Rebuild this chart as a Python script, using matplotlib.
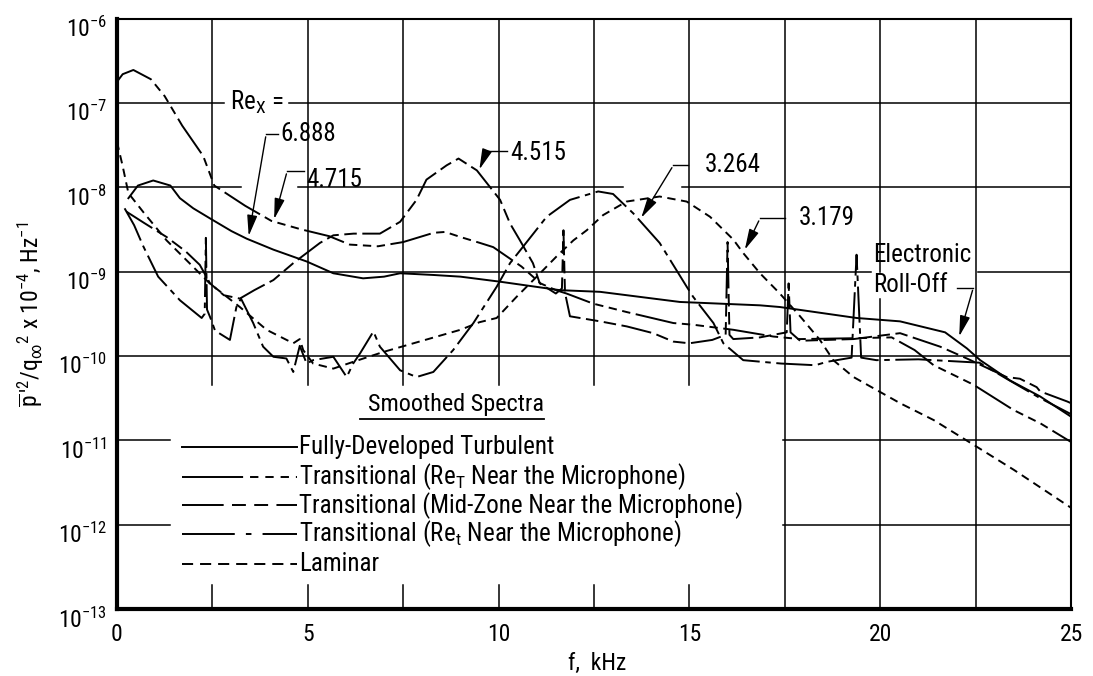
import numpy as np
import matplotlib
matplotlib.use('Agg')
import matplotlib.pyplot as plt
from matplotlib import font_manager
import matplotlib.transforms as mtransforms


def pick_font():
    # narrow sans to stand in for the condensed lettering of the original
    for name in ['Liberation Sans Narrow', 'Roboto Condensed', 'Roboto', 'DejaVu Sans']:
        try:
            font_manager.findfont(font_manager.FontProperties(family=name),
                                  fallback_to_default=False)
            return name
        except Exception:
            pass
    return 'DejaVu Sans'


FONT = pick_font()
plt.rcParams['font.family'] = [FONT, 'DejaVu Sans']
plt.rcParams['mathtext.fontset'] = 'custom'
plt.rcParams['mathtext.rm'] = FONT
plt.rcParams['mathtext.it'] = FONT + ':italic'
plt.rcParams['mathtext.bf'] = FONT + ':bold'
plt.rcParams['lines.scale_dashes'] = False

# ---- data: f in kHz, spectrum as log10 value ----
turb_f = [0.30, 0.55, 0.95, 1.40, 1.65, 2.00, 2.44, 3.00, 3.40, 4.10, 4.97, 5.67,
          6.45, 7.00, 7.42, 8.29, 9.00, 10.04, 11.60, 12.66, 14.75, 16.85, 17.37,
          19.38, 20.52, 21.70, 22.27, 22.62, 23.40, 24.19, 25.00]
turb_lg = [-8.13, -7.98, -7.92, -7.98, -8.13, -8.25, -8.37, -8.52, -8.61, -8.74, -8.88, -9.02,
           -9.08, -9.06, -9.02, -9.04, -9.06, -9.12, -9.22, -9.24, -9.36, -9.40, -9.42,
           -9.55, -9.59, -9.72, -9.91, -10.05, -10.29, -10.48, -10.72]

reT_f = [0.00, 0.15, 0.43, 0.89, 1.25, 1.71, 2.26, 2.55, 3.36, 4.05, 4.83, 5.56, 6.10,
         6.84, 7.50, 8.30, 8.60, 9.00, 9.51, 9.86, 10.60, 11.10, 11.50, 11.78, 12.48,
         13.36, 14.58, 15.10, 16.15, 17.20, 17.90, 19.30, 20.30, 20.90, 21.40, 22.44,
         23.49, 24.20, 25.00]
reT_lg = [-6.75, -6.66, -6.61, -6.72, -6.92, -7.27, -7.63, -7.98, -8.22, -8.40, -8.50, -8.58, -8.68,
          -8.70, -8.65, -8.54, -8.53, -8.59, -8.66, -8.71, -8.94, -9.14, -9.22, -9.26, -9.38,
          -9.48, -9.61, -9.63, -9.69, -9.77, -9.80, -9.79, -9.78, -9.93, -10.11, -10.34,
          -10.64, -10.80, -11.02]

mid_f = [0.25, 0.70, 1.30, 1.80, 2.17, 2.44, 2.80, 3.22, 3.60, 4.10, 4.62, 5.32, 5.67,
         6.20, 6.89, 7.42, 7.85, 8.11, 8.64, 8.95, 9.43, 10.04, 10.30, 10.56, 10.90,
         11.08, 11.50, 11.66, 11.70, 11.74, 11.87, 12.66, 13.36, 14.05, 14.58, 15.00,
         15.60, 15.95, 16.00, 16.05, 16.15, 16.85, 17.55, 17.60, 17.65, 17.90, 19.30,
         20.52, 21.57, 22.27, 23.31, 23.66, 24.10, 24.19, 24.90, 25.00]
mid_lg = [-8.29, -8.42, -8.59, -8.76, -8.92, -9.14, -9.28, -9.32, -9.22, -9.10, -8.90, -8.66, -8.57,
          -8.55, -8.55, -8.41, -8.15, -7.91, -7.74, -7.66, -7.80, -8.15, -8.43, -8.63, -8.90,
          -9.14, -9.26, -9.20, -8.51, -9.25, -9.53, -9.59, -9.65, -9.73, -9.83, -9.85,
          -9.81, -9.75, -8.65, -9.75, -9.80, -9.78, -9.72, -9.14, -9.72, -9.82, -9.80,
          -9.73, -9.89, -10.03, -10.25, -10.27, -10.37, -10.42, -10.54, -10.56]

ret_f = [0.20, 0.45, 0.69, 1.08, 1.65, 2.22, 2.30, 2.33, 2.36, 2.45, 2.57, 2.96, 3.13,
         3.25, 3.57, 3.83, 4.10, 4.44, 4.62, 4.79, 4.97, 5.14, 5.67, 6.02, 6.19, 6.37,
         6.72, 6.89, 7.42, 7.85, 8.29, 8.81, 9.34, 9.95, 10.30, 10.65, 11.26, 11.87,
         12.61, 13.00, 13.53, 14.22, 14.93, 15.10, 15.63, 15.89, 16.41, 17.40, 18.30,
         18.60, 19.25, 19.38, 19.50, 19.90, 21.00, 22.60, 23.31, 24.19, 25.00]
ret_lg = [-8.25, -8.45, -8.70, -9.06, -9.34, -9.55, -9.50, -8.60, -9.45, -9.55, -9.70, -9.81, -9.42,
          -9.32, -9.61, -9.89, -10.01, -10.03, -10.19, -9.88, -10.09, -10.05, -10.01, -10.25, -10.09, -9.97,
          -9.71, -9.89, -10.17, -10.25, -10.19, -9.93, -9.61, -9.18, -8.90, -8.70, -8.35, -8.15,
          -8.05, -8.08, -8.31, -8.66, -9.18, -9.30, -9.61, -9.85, -10.05, -10.09, -10.11,
          -10.07, -10.02, -8.80, -10.02, -10.05, -10.04, -10.08, -10.27, -10.50, -10.69]

lam_f = [0.00, 0.15, 0.30, 0.70, 1.30, 1.90, 2.43, 3.22, 3.92, 4.62, 4.79, 4.88, 5.14,
         5.67, 6.19, 7.00, 8.00, 9.00, 9.50, 9.95, 10.47, 11.00, 11.52, 11.96, 12.31,
         12.74, 13.35, 14.22, 14.93, 15.54, 16.15, 16.41, 16.85, 17.37, 17.90, 18.42,
         18.77, 19.30, 20.52, 21.40, 22.40, 23.50, 25.00]
lam_lg = [-7.46, -7.75, -8.07, -8.30, -8.63, -8.90, -9.14, -9.42, -9.69, -9.85, -9.80, -9.93, -10.09,
          -10.15, -10.07, -9.95, -9.82, -9.69, -9.60, -9.55, -9.30, -9.06, -8.82, -8.63, -8.51,
          -8.33, -8.17, -8.11, -8.17, -8.35, -8.62, -8.78, -9.02, -9.26, -9.53, -9.81,
          -10.05, -10.25, -10.56, -10.76, -11.04, -11.35, -11.80]

legend_labels = ['Fully-Developed Turbulent',
                 'Transitional (Re$_{\\mathregular{T}}$ Near the Microphone)',
                 'Transitional (Mid-Zone Near the Microphone)',
                 'Transitional (Re$_{\\mathregular{t}}$ Near the Microphone)',
                 'Laminar']
x_ticks = [0, 5, 10, 15, 20, 25]
y_decades = [-13, -12, -11, -10, -9, -8, -7, -6]

# ---- figure ----
fig = plt.figure(figsize=(10.93, 6.76), dpi=100)
ax = fig.add_axes([0.107, 0.0991, 0.8729, 0.8735])
ax.set_yscale('log')
ax.set_xlim(0, 25)
ax.set_ylim(1e-13, 1e-6)

LW = 1.4
K = 'black'


def P(v):
    return np.power(10.0, np.asarray(v, dtype=float))


# partial grid, broken where labels sit (as on the original)
hgrid = {-7: [(0, 2.8), (4.5, 25)],
         -8: [(0, 3.25), (4.75, 13.25), (14.8, 25)],
         -9: [(0, 19.75), (22.55, 25)],
         -10: [(0, 25)],
         -11: [(0, 1.4), (17.45, 25)],
         -12: [(0, 1.4), (17.45, 25)]}
for d, segs in hgrid.items():
    for a, b in segs:
        ax.plot([a, b], P([d, d]), color=K, lw=1.1, zorder=1)
vgrid = {2.5: [(-6, -10.35), (-12.72, -13)], 5: [(-6, -10.35), (-12.72, -13)],
         7.5: [(-6, -10.35), (-12.72, -13)], 10: [(-6, -10.35), (-12.72, -13)],
         12.5: [(-6, -10.35), (-12.72, -13)], 15: [(-6, -10.35), (-12.72, -13)],
         17.5: [(-6, -13)], 20: [(-6, -9.0), (-9.33, -13)], 22.5: [(-6, -13)]}
for x, segs in vgrid.items():
    for a, b in segs:
        ax.plot([x, x], P([a, b]), color=K, lw=1.1, zorder=1)

# spectra
ax.plot(turb_f, P(turb_lg), color=K, lw=LW, zorder=3)
ax.plot(reT_f, P(reT_lg), color=K, lw=LW, dashes=[30, 4, 6, 4, 6, 4, 6, 4], zorder=3)
ax.plot(mid_f, P(mid_lg), color=K, lw=LW, dashes=[22, 4, 9, 4, 9, 4], zorder=3)
ax.plot(ret_f, P(ret_lg), color=K, lw=LW, dashes=[26, 4, 4, 4], zorder=3)
ax.plot(lam_f, P(lam_lg), color=K, lw=LW, dashes=[6, 4], zorder=3)

# labels with leader arrows
FS = 18
notes = [('6.888', 4.28, -7.37, [(4.23, -7.37), (3.91, -7.37), (3.44, -8.61)]),
         ('4.715', 4.95, -7.91, [(4.90, -7.81), (4.46, -7.81), (4.10, -8.41)]),
         ('4.515', 10.30, -7.60, [(10.22, -7.57), (9.69, -7.57), (9.47, -7.82)]),
         ('3.264', 15.41, -7.74, [(14.97, -7.74), (14.58, -7.74), (13.70, -8.39)]),
         ('3.179', 17.87, -8.36, [(17.50, -8.37), (16.85, -8.37), (16.42, -8.77)]),
         ('', 0, 0, [(22.02, -9.19), (22.44, -9.19), (22.05, -9.80)])]
for txt, tx, ty, path in notes:
    if txt:
        ax.text(tx, P(ty), txt, fontsize=FS, ha='left', va='center', zorder=5)
    xs = [p[0] for p in path]
    ys = P([p[1] for p in path])
    ax.plot(xs[:-1], ys[:-1], color=K, lw=1.0, zorder=4)
    ax.annotate('', xy=(xs[-1], ys[-1]), xytext=(xs[-2], ys[-2]),
                arrowprops=dict(arrowstyle='-|>,head_length=0.9,head_width=0.22',
                                color=K, lw=1.0, mutation_scale=14), zorder=4)

ax.text(2.95, 1e-7, 'Re$_{\\mathregular{X}}$ =', fontsize=FS, ha='left', va='center',
        zorder=5)
ax.text(19.82, P(-8.80), 'Electronic', fontsize=FS, ha='left', va='center', zorder=5)
ax.text(19.82, P(-9.16), 'Roll-Off', fontsize=FS, ha='left', va='center', zorder=5)

# hand-drawn legend block
ax.text(8.88, P(-10.57), 'Smoothed Spectra', fontsize=17.5, ha='center', va='center')
ax.plot([6.38, 11.2], P([-10.75, -10.75]), color=K, lw=1.3)
rows = [-11.08, -11.43, -11.77, -12.11, -12.47]
sample_dashes = [None, [44, 5, 6, 5, 6, 5, 6, 5, 6], [30, 6, 10, 6, 10, 6, 40],
                 [38, 8, 4, 8, 40], [8, 5]]
for lab, ry, ds in zip(legend_labels, rows, sample_dashes):
    if ds is None:
        ax.plot([1.71, 4.73], P([ry, ry]), color=K, lw=LW)
    else:
        ax.plot([1.71, 4.73], P([ry, ry]), color=K, lw=LW, dashes=ds)
    ax.text(4.78, P(ry), lab, fontsize=FS, ha='left', va='center')

# axes dressing
for s in ['left', 'bottom']:
    ax.spines[s].set_linewidth(3.0)
for s in ['top', 'right']:
    ax.spines[s].set_linewidth(1.5)
ax.set_xticks(x_ticks)
ax.set_xticklabels([str(t) for t in x_ticks], fontsize=17)
ax.set_yticks(P(y_decades))
ax.set_yticklabels(['10$^{\\mathregular{%d}}$' % d for d in y_decades], fontsize=17)
ax.yaxis.set_minor_locator(matplotlib.ticker.NullLocator())
ax.tick_params(axis='both', length=0)
ax.tick_params(axis='x', pad=10)
ax.tick_params(axis='y', pad=7)
off = mtransforms.ScaledTranslation(0, -6 / 72, fig.dpi_scale_trans)
for lbl in ax.get_yticklabels():
    lbl.set_transform(lbl.get_transform() + off)

fig.text(0.546, 0.019, 'f,  kHz', fontsize=17, ha='center', va='center')
fig.text(0.028, 0.535,
         "$\\overline{\\mathrm{p}}\\,'^{2}/\\mathrm{q}_{\\infty}{}^{2}$ x 10$^{-4}$, Hz$^{-1}$",
         fontsize=17, ha='center', va='center', rotation=90)

fig.savefig('out.png', dpi=100)
